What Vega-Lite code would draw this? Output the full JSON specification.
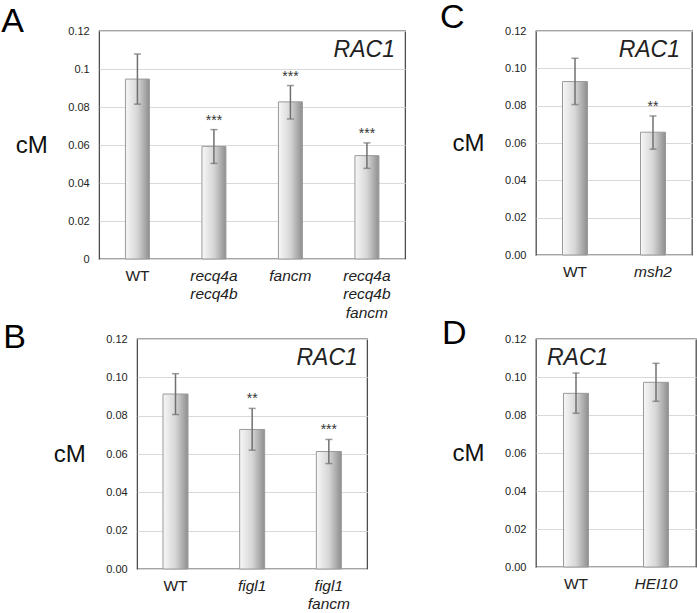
{
  "$schema": "https://vega.github.io/schema/vega-lite/v6.json",
  "background": "white",
  "padding": {"left": 0, "top": 0, "right": 2, "bottom": 0},
  "datasets": {
    "A": [
      {"genotype": "WT", "mean": 0.0947, "lo": 0.0815, "hi": 0.1079, "sig": ""},
      {"genotype": "recq4a recq4b", "mean": 0.0593, "lo": 0.0503, "hi": 0.0681, "sig": "***"},
      {"genotype": "fancm", "mean": 0.0827, "lo": 0.0737, "hi": 0.0913, "sig": "***"},
      {"genotype": "recq4a recq4b fancm", "mean": 0.0544, "lo": 0.0477, "hi": 0.0611, "sig": "***"}
    ],
    "C": [
      {"genotype": "WT", "mean": 0.0929, "lo": 0.0806, "hi": 0.1054, "sig": ""},
      {"genotype": "msh2", "mean": 0.0658, "lo": 0.0567, "hi": 0.0745, "sig": "**"}
    ],
    "B": [
      {"genotype": "WT", "mean": 0.0913, "lo": 0.0806, "hi": 0.1019, "sig": ""},
      {"genotype": "figl1", "mean": 0.0728, "lo": 0.062, "hi": 0.0838, "sig": "**"},
      {"genotype": "figl1 fancm", "mean": 0.0613, "lo": 0.055, "hi": 0.0676, "sig": "***"}
    ],
    "D": [
      {"genotype": "WT", "mean": 0.0914, "lo": 0.0809, "hi": 0.1021, "sig": ""},
      {"genotype": "HEI10", "mean": 0.0972, "lo": 0.0872, "hi": 0.1072, "sig": ""}
    ],
    "gene": [{"name": "RAC1"}]
  },
  "columns": 2,
  "spacing": {"column": 33, "row": -6},
  "center": {"column": true},
  "concat": [
    {
      "title": {"text": "A", "dx": -98, "dy": 18},
      "width": 306, "height": 228,
      "data": {"name": "A"},
      "encoding": {
        "x": {"field": "genotype", "type": "nominal", "sort": null, "title": null,
              "scale": {"paddingInner": 0, "paddingOuter": 0}}
      },
      "layer": [
        {"mark": {"type": "bar", "width": 24, "stroke": "#9a9a9a", "strokeWidth": 1,
                  "fill": {"gradient": "linear", "x1": 0, "x2": 1, "y1": 0, "y2": 0,
                           "stops": [{"offset": 0, "color": "#f7f7f7"}, {"offset": 0.5, "color": "#d6d6d6"}, {"offset": 1, "color": "#8e8e8e"}]}},
         "encoding": {"y": {"field": "mean", "type": "quantitative", "title": "cM", "scale": {"domain": [0, 0.12]},
                            "axis": {"values": [0, 0.02, 0.04, 0.06, 0.08, 0.1, 0.12], "tickCount": 7, "format": ".2~f"}}}},
        {"mark": {"type": "rule", "color": "#707070", "strokeWidth": 1.5},
         "encoding": {"y": {"field": "lo", "type": "quantitative", "title": "cM"}, "y2": {"field": "hi"}}},
        {"mark": {"type": "tick", "color": "#707070", "size": 7, "thickness": 1.5},
         "encoding": {"y": {"field": "lo", "type": "quantitative", "title": "cM"}}},
        {"mark": {"type": "tick", "color": "#707070", "size": 7, "thickness": 1.5},
         "encoding": {"y": {"field": "hi", "type": "quantitative", "title": "cM"}}},
        {"mark": {"type": "text", "baseline": "bottom", "dy": -2, "fontSize": 14, "font": "Liberation Sans", "color": "#333"},
         "encoding": {"y": {"field": "hi", "type": "quantitative", "title": "cM"}, "text": {"field": "sig"}}},
        {"data": {"name": "gene"},
         "mark": {"type": "text", "align": "right", "baseline": "middle", "dx": 28, "fontSize": 23, "fontStyle": "italic", "font": "Liberation Sans", "color": "#222"},
         "encoding": {"x": {"datum": "recq4a recq4b fancm", "type": "nominal"}, "y": {"datum": 0.11, "type": "quantitative", "title": "cM"}, "text": {"field": "name"}}}
      ]
    },
    {
      "title": {"text": "C", "dx": -96, "dy": 14},
      "width": 156, "height": 224,
      "data": {"name": "C"},
      "encoding": {
        "x": {"field": "genotype", "type": "nominal", "sort": null, "title": null,
              "scale": {"paddingInner": 0, "paddingOuter": 0}}
      },
      "layer": [
        {"mark": {"type": "bar", "width": 25, "stroke": "#9a9a9a", "strokeWidth": 1,
                  "fill": {"gradient": "linear", "x1": 0, "x2": 1, "y1": 0, "y2": 0,
                           "stops": [{"offset": 0, "color": "#f7f7f7"}, {"offset": 0.5, "color": "#d6d6d6"}, {"offset": 1, "color": "#8e8e8e"}]}},
         "encoding": {"y": {"field": "mean", "type": "quantitative", "title": "cM", "scale": {"domain": [0, 0.12]},
                            "axis": {"values": [0, 0.02, 0.04, 0.06, 0.08, 0.1, 0.12], "tickCount": 7, "format": ".2f"}}}},
        {"mark": {"type": "rule", "color": "#707070", "strokeWidth": 1.5},
         "encoding": {"y": {"field": "lo", "type": "quantitative", "title": "cM"}, "y2": {"field": "hi"}}},
        {"mark": {"type": "tick", "color": "#707070", "size": 7, "thickness": 1.5},
         "encoding": {"y": {"field": "lo", "type": "quantitative", "title": "cM"}}},
        {"mark": {"type": "tick", "color": "#707070", "size": 7, "thickness": 1.5},
         "encoding": {"y": {"field": "hi", "type": "quantitative", "title": "cM"}}},
        {"mark": {"type": "text", "baseline": "bottom", "dy": -2, "fontSize": 14, "font": "Liberation Sans", "color": "#333"},
         "encoding": {"y": {"field": "hi", "type": "quantitative", "title": "cM"}, "text": {"field": "sig"}}},
        {"data": {"name": "gene"},
         "mark": {"type": "text", "align": "right", "baseline": "middle", "dx": 27, "fontSize": 23, "fontStyle": "italic", "font": "Liberation Sans", "color": "#222"},
         "encoding": {"x": {"datum": "msh2", "type": "nominal"}, "y": {"datum": 0.11, "type": "quantitative", "title": "cM"}, "text": {"field": "name"}}}
      ]
    },
    {
      "title": {"text": "B", "dx": -134, "dy": 26},
      "width": 230, "height": 230,
      "data": {"name": "B"},
      "encoding": {
        "x": {"field": "genotype", "type": "nominal", "sort": null, "title": null,
              "scale": {"paddingInner": 0, "paddingOuter": 0}}
      },
      "layer": [
        {"mark": {"type": "bar", "width": 25, "stroke": "#9a9a9a", "strokeWidth": 1,
                  "fill": {"gradient": "linear", "x1": 0, "x2": 1, "y1": 0, "y2": 0,
                           "stops": [{"offset": 0, "color": "#f7f7f7"}, {"offset": 0.5, "color": "#d6d6d6"}, {"offset": 1, "color": "#8e8e8e"}]}},
         "encoding": {"y": {"field": "mean", "type": "quantitative", "title": "cM", "scale": {"domain": [0, 0.12]},
                            "axis": {"values": [0, 0.02, 0.04, 0.06, 0.08, 0.1, 0.12], "tickCount": 7, "format": ".2f"}}}},
        {"mark": {"type": "rule", "color": "#707070", "strokeWidth": 1.5},
         "encoding": {"y": {"field": "lo", "type": "quantitative", "title": "cM"}, "y2": {"field": "hi"}}},
        {"mark": {"type": "tick", "color": "#707070", "size": 7, "thickness": 1.5},
         "encoding": {"y": {"field": "lo", "type": "quantitative", "title": "cM"}}},
        {"mark": {"type": "tick", "color": "#707070", "size": 7, "thickness": 1.5},
         "encoding": {"y": {"field": "hi", "type": "quantitative", "title": "cM"}}},
        {"mark": {"type": "text", "baseline": "bottom", "dy": -2, "fontSize": 14, "font": "Liberation Sans", "color": "#333"},
         "encoding": {"y": {"field": "hi", "type": "quantitative", "title": "cM"}, "text": {"field": "sig"}}},
        {"data": {"name": "gene"},
         "mark": {"type": "text", "align": "right", "baseline": "middle", "dx": 29, "fontSize": 23, "fontStyle": "italic", "font": "Liberation Sans", "color": "#222"},
         "encoding": {"x": {"datum": "figl1 fancm", "type": "nominal"}, "y": {"datum": 0.11, "type": "quantitative", "title": "cM"}, "text": {"field": "name"}}}
      ]
    },
    {
      "title": {"text": "D", "dx": -94, "dy": 22},
      "width": 160, "height": 228,
      "data": {"name": "D"},
      "encoding": {
        "x": {"field": "genotype", "type": "nominal", "sort": null, "title": null,
              "scale": {"paddingInner": 0, "paddingOuter": 0}}
      },
      "layer": [
        {"mark": {"type": "bar", "width": 25, "stroke": "#9a9a9a", "strokeWidth": 1,
                  "fill": {"gradient": "linear", "x1": 0, "x2": 1, "y1": 0, "y2": 0,
                           "stops": [{"offset": 0, "color": "#f7f7f7"}, {"offset": 0.5, "color": "#d6d6d6"}, {"offset": 1, "color": "#8e8e8e"}]}},
         "encoding": {"y": {"field": "mean", "type": "quantitative", "title": "cM", "scale": {"domain": [0, 0.12]},
                            "axis": {"values": [0, 0.02, 0.04, 0.06, 0.08, 0.1, 0.12], "tickCount": 7, "format": ".2f"}}}},
        {"mark": {"type": "rule", "color": "#707070", "strokeWidth": 1.5},
         "encoding": {"y": {"field": "lo", "type": "quantitative", "title": "cM"}, "y2": {"field": "hi"}}},
        {"mark": {"type": "tick", "color": "#707070", "size": 7, "thickness": 1.5},
         "encoding": {"y": {"field": "lo", "type": "quantitative", "title": "cM"}}},
        {"mark": {"type": "tick", "color": "#707070", "size": 7, "thickness": 1.5},
         "encoding": {"y": {"field": "hi", "type": "quantitative", "title": "cM"}}},
        {"data": {"name": "gene"},
         "mark": {"type": "text", "align": "left", "baseline": "middle", "dx": -29, "fontSize": 23, "fontStyle": "italic", "font": "Liberation Sans", "color": "#222"},
         "encoding": {"x": {"datum": "WT", "type": "nominal"}, "y": {"datum": 0.11, "type": "quantitative", "title": "cM"}, "text": {"field": "name"}}}
      ]
    }
  ],
  "config": {
    "view": {"stroke": "#4d4d4d", "strokeWidth": 1.3},
    "title": {"anchor": "start", "frame": "group", "fontSize": 34, "fontWeight": "normal", "font": "Liberation Sans", "color": "#000", "baseline": "alphabetic", "offset": 0},
    "axis": {"domain": false, "ticks": false, "labelFont": "Liberation Sans", "titleFont": "Liberation Sans", "labelColor": "#222", "titleColor": "#111"},
    "axisX": {"labelAngle": 0, "labelFontSize": 15.5, "labelPadding": 9, "labelLineHeight": 18.5,
              "labelExpr": "split(datum.label, ' ')",
              "labelFontStyle": {"condition": {"test": "datum.label == 'WT' || datum.value == 'WT'", "value": "normal"}, "value": "italic"}},
    "axisY": {"grid": true, "gridColor": "#d9d9d9", "gridWidth": 1, "labelFontSize": 11, "labelPadding": 10, "labelOverlap": false, "tickCount": 7,
              "titleAngle": 0, "titleAlign": "right", "titleBaseline": "middle", "titleFontSize": 24, "titleFontWeight": "normal",
              "titlePadding": 20, "minExtent": 32, "maxExtent": 32}
  }
}
